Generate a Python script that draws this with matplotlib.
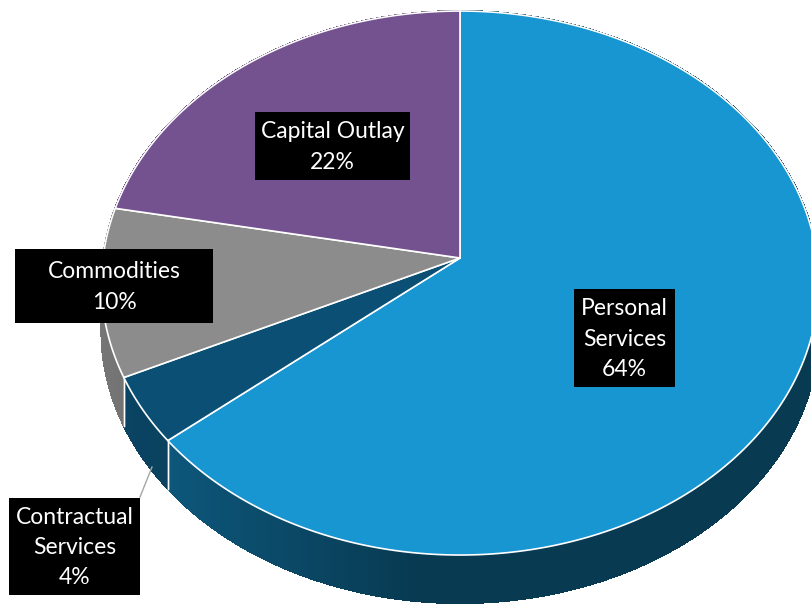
import matplotlib
matplotlib.use("Agg")
import matplotlib.pyplot as plt
import numpy as np
from matplotlib.patches import Polygon, Rectangle
from matplotlib.colors import to_rgb

# data (percent of total)
categories = ["Personal\nServices", "Contractual\nServices", "Commodities", "Capital Outlay"]
shares = [64, 4, 10, 22]
top_colors = ["#1796d2", "#0b5074", "#8c8c8c", "#745290"]
side_light = ["#0f6189", "#0a4564", "#767676", "#5e4076"]
side_dark = ["#083a52", "#083a52", "#5f5f5f", "#4e3463"]

# projection of the tilted disc (pixel space)
cx, cy = 460.0, 258.0
a, b, p = 357.0, 269.7, 0.092
depth = 48.0


def proj(phi, drop=0.0):
    X, Z = np.cos(phi), np.sin(phi)
    d = 1.0 + p * Z
    return cx + a * X / d, cy - b * Z / d + drop


fig = plt.figure(figsize=(8.12, 6.04), dpi=100)
ax = fig.add_axes([0, 0, 1, 1])
ax.set_xlim(0, 812)
ax.set_ylim(604, 0)
ax.axis("off")

# slice angles, clockwise from 12 o'clock
fr = np.array(shares, dtype=float) / sum(shares)
starts = np.pi / 2 - 2 * np.pi * np.concatenate([[0], np.cumsum(fr)[:-1]])
ends = starts - 2 * np.pi * fr

# side walls: solid base, then a gradient drawn as thin strips on top
for s, e, cl, cd in zip(starts, ends, side_light, side_dark):
    phis = np.linspace(s, e, 240)
    xs, ys = proj(phis)
    base = list(zip(xs, ys)) + list(zip(xs[::-1], ys[::-1] + depth))
    ax.add_patch(Polygon(base, closed=True, facecolor=cd, edgecolor="none", zorder=1))
    c1, c2 = np.array(to_rgb(cl)), np.array(to_rgb(cd))
    for i in range(len(phis) - 1):
        p0, p1 = phis[i], phis[i + 1]
        # lighter toward the left, darker in front/right
        t = np.clip((np.cos(p0) + 1.0) / 0.9, 0, 1)
        col = c1 * (1 - t) + c2 * t
        ax.add_patch(Polygon([(xs[i], ys[i]), (xs[i + 1], ys[i + 1]),
                              (xs[i + 1], ys[i + 1] + depth), (xs[i], ys[i] + depth)],
                             closed=True, facecolor=col, edgecolor=col, lw=0.8,
                             antialiased=False, zorder=1.5))
    # white seam where slices meet on the wall
    for ang in (s, e):
        if np.sin(ang) < 0:
            x0, y0 = proj(ang)
            ax.plot([x0, x0], [y0, y0 + depth], color="white", lw=1.0, zorder=2)

# top faces
for s, e, c in zip(starts, ends, top_colors):
    phis = np.linspace(s, e, 300)
    xs, ys = proj(phis)
    pts = [(cx, cy)] + list(zip(xs, ys))
    ax.add_patch(Polygon(pts, closed=True, facecolor=c, edgecolor="white", lw=1.2,
                         joinstyle="round", zorder=3))

# data labels
label_boxes = [(574, 289, 101, 98), (9, 498, 131, 97), (15, 249, 198, 74), (255, 112, 155, 68)]
font = ["Lato", "DejaVu Sans"]
for lab, sh, (bx, by, bw, bh) in zip(categories, shares, label_boxes):
    ax.add_patch(Rectangle((bx, by), bw, bh, facecolor="black", edgecolor="none", zorder=5))
    ax.text(bx + bw / 2, by + bh / 2 + 1, f"{lab}\n{sh}%", ha="center", va="center",
            color="white", fontsize=16.5, family=font, linespacing=1.55, zorder=6)

# leader line for the small slice
ax.plot([140, 152], [497, 467], color="#a6a6a6", lw=1.0, zorder=4)

fig.savefig("out.png", dpi=100)
